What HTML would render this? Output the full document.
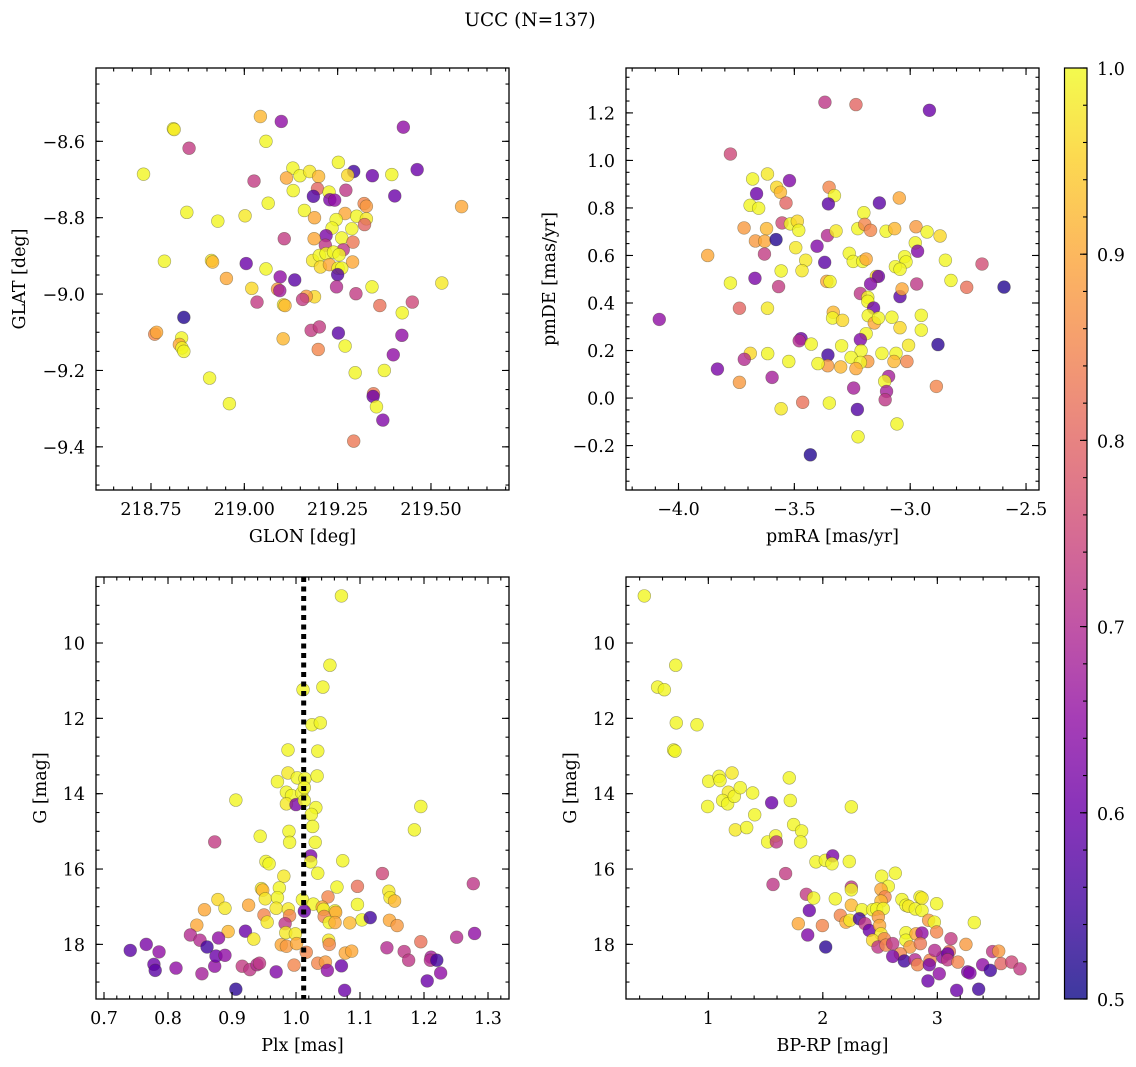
<!DOCTYPE html>
<html><head><meta charset="utf-8"><title>UCC (N=137)</title>
<style>
html,body{margin:0;padding:0;background:#fff;}
svg{display:block;font-family:"DejaVu Serif","Liberation Serif",serif;}
</style></head>
<body>
<svg id="fig" width="1136" height="1067" viewBox="0 0 1136 1067" xmlns="http://www.w3.org/2000/svg">
<rect width="1136" height="1067" fill="#fff"/>
<text x="530" y="26" font-size="18.5" text-anchor="middle">UCC (N=137)</text>
</svg>
<script>
// ---- Panel 1 data: GLON / GLAT ----
const p1Glon = [219.043,219.099,219.426,218.81,218.812,218.852,219.058,218.73,219.252,219.293,219.343,219.395,219.463,219.026,219.13,219.113,219.149,219.175,219.199,219.277,219.131,219.196,219.227,219.185,219.229,219.242,219.272,219.403,219.064,218.846,218.929,219.002,219.161,219.188,219.321,219.327,219.27,219.301,219.327,219.246,219.235,219.322,219.288,219.582,219.107,219.219,219.187,219.261,219.291,219.217,219.265,219.183,219.201,219.219,219.239,219.254,219.204,219.228,219.29,219.251,219.261,219.25,218.786,218.912,218.915,219.005,219.058,218.952,219.096,219.135,219.02,219.089,219.095,219.188,219.166,219.156,219.034,219.105,219.109,219.247,219.299,219.342,219.363,219.45,219.529,219.423,218.838,218.76,218.765,218.832,218.826,218.833,218.838,219.104,219.179,219.201,219.252,219.198,219.27,219.422,219.399,219.297,219.375,218.907,219.346,219.345,219.354,219.371,218.96,219.293];
const p1Glat = [-8.535,-8.548,-8.563,-8.567,-8.569,-8.618,-8.6,-8.686,-8.655,-8.679,-8.69,-8.687,-8.674,-8.704,-8.67,-8.696,-8.69,-8.679,-8.692,-8.689,-8.729,-8.724,-8.733,-8.744,-8.753,-8.754,-8.728,-8.743,-8.762,-8.786,-8.809,-8.795,-8.781,-8.8,-8.763,-8.77,-8.789,-8.796,-8.803,-8.805,-8.827,-8.818,-8.829,-8.771,-8.855,-8.847,-8.855,-8.853,-8.864,-8.872,-8.884,-8.912,-8.899,-8.894,-8.89,-8.897,-8.929,-8.923,-8.916,-8.932,-8.932,-8.949,-8.914,-8.912,-8.916,-8.92,-8.934,-8.959,-8.955,-8.963,-8.985,-8.987,-8.991,-9.007,-9.006,-9.014,-9.021,-9.028,-9.03,-8.981,-8.999,-8.981,-9.03,-9.021,-8.971,-9.049,-9.061,-9.105,-9.10,-9.115,-9.132,-9.141,-9.15,-9.117,-9.095,-9.086,-9.102,-9.145,-9.136,-9.108,-9.159,-9.206,-9.2,-9.22,-9.261,-9.268,-9.295,-9.33,-9.287,-9.385];
const p1Prob = [0.92,0.65,0.65,0.995,0.98,0.73,0.995,0.995,0.995,0.55,0.6,0.995,0.6,0.73,0.995,0.9,0.995,0.98,0.92,0.96,0.995,0.8,0.995,0.57,0.62,0.65,0.72,0.6,0.995,0.995,0.995,0.98,0.995,0.9,0.85,0.88,0.9,0.995,0.98,0.995,0.995,0.8,0.995,0.9,0.73,0.62,0.9,0.995,0.83,0.72,0.72,0.98,0.995,0.995,0.995,0.995,0.96,0.9,0.9,0.995,0.995,0.57,0.995,0.98,0.92,0.6,0.995,0.9,0.65,0.58,0.96,0.88,0.67,0.96,0.88,0.73,0.73,0.98,0.92,0.7,0.73,0.995,0.82,0.75,0.98,0.995,0.52,0.85,0.9,0.995,0.9,0.995,0.995,0.92,0.73,0.73,0.58,0.85,0.995,0.65,0.65,0.995,0.995,0.995,0.83,0.6,0.995,0.63,0.995,0.83];
const p1XTicks = [218.75,219.00,219.25,219.50];
const p1YTicks = [-8.6,-8.8,-9.0,-9.2,-9.4];

// ---- Panel 2 data: pmRA / pmDE ----
const p2PmRA = [-3.368,-3.234,-2.917,-3.776,-3.68,-3.616,-3.521,-3.663,-3.576,-3.56,-3.35,-3.327,-3.536,-3.353,-3.133,-3.047,-3.691,-3.654,-3.2,-3.553,-3.517,-3.487,-3.481,-3.717,-3.62,-3.668,-3.628,-3.579,-3.629,-3.874,-3.357,-3.32,-3.402,-3.494,-3.226,-3.196,-3.171,-3.104,-3.067,-2.975,-2.927,-2.871,-2.978,-2.968,-3.263,-3.246,-3.205,-3.19,-3.369,-3.451,-3.024,-3.018,-3.064,-3.044,-2.848,-2.69,-2.595,-2.756,-2.824,-2.972,-3.557,-3.467,-3.776,-3.67,-3.568,-3.36,-3.346,-3.146,-3.137,-3.171,-3.215,-3.183,-3.183,-3.044,-3.035,-3.737,-3.616,-4.083,-3.332,-3.335,-3.292,-3.158,-3.181,-3.155,-3.137,-3.079,-3.044,-2.952,-2.952,-2.88,-3.007,-3.19,-3.215,-3.471,-3.479,-3.427,-3.296,-3.355,-3.212,-3.255,-3.183,-3.215,-3.234,-3.3,-3.356,-3.398,-3.524,-3.615,-3.69,-3.716,-3.832,-3.737,-3.596,-3.122,-3.061,-3.07,-3.014,-3.093,-3.11,-3.102,-3.108,-2.887,-3.244,-3.228,-3.464,-3.349,-3.557,-3.057,-3.225,-3.431];
const p2PmDE = [1.245,1.235,1.211,1.027,0.922,0.943,0.915,0.86,0.887,0.866,0.887,0.852,0.821,0.817,0.821,0.842,0.811,0.799,0.78,0.737,0.733,0.744,0.706,0.716,0.713,0.661,0.66,0.667,0.606,0.6,0.684,0.703,0.639,0.633,0.713,0.731,0.706,0.702,0.713,0.721,0.699,0.682,0.653,0.618,0.609,0.575,0.575,0.585,0.571,0.58,0.595,0.573,0.553,0.542,0.58,0.564,0.467,0.466,0.495,0.48,0.535,0.536,0.484,0.504,0.469,0.491,0.49,0.512,0.512,0.48,0.44,0.424,0.407,0.427,0.459,0.378,0.378,0.331,0.361,0.337,0.327,0.379,0.347,0.316,0.337,0.34,0.296,0.348,0.286,0.225,0.222,0.271,0.246,0.25,0.241,0.227,0.22,0.181,0.199,0.171,0.154,0.15,0.124,0.131,0.136,0.145,0.154,0.187,0.188,0.163,0.122,0.066,0.087,0.188,0.188,0.154,0.154,0.091,0.07,0.028,-0.007,0.049,0.042,-0.048,-0.018,-0.021,-0.045,-0.109,-0.163,-0.239];
const p2Prob = [0.72,0.8,0.6,0.75,0.995,0.98,0.63,0.6,0.96,0.92,0.85,0.995,0.8,0.58,0.58,0.9,0.995,0.995,0.995,0.75,0.995,0.96,0.995,0.88,0.92,0.88,0.9,0.52,0.73,0.9,0.7,0.98,0.63,0.98,0.995,0.85,0.85,0.995,0.92,0.88,0.995,0.96,0.995,0.63,0.995,0.995,0.995,0.9,0.58,0.98,0.995,0.995,0.995,0.995,0.995,0.76,0.52,0.82,0.995,0.72,0.995,0.98,0.995,0.62,0.73,0.9,0.995,0.96,0.6,0.63,0.72,0.995,0.995,0.58,0.9,0.8,0.98,0.65,0.92,0.995,0.96,0.6,0.995,0.9,0.995,0.995,0.96,0.995,0.995,0.53,0.98,0.995,0.63,0.6,0.7,0.995,0.995,0.55,0.995,0.995,0.88,0.995,0.9,0.92,0.88,0.995,0.995,0.995,0.96,0.7,0.62,0.88,0.68,0.995,0.995,0.92,0.85,0.68,0.995,0.68,0.72,0.85,0.68,0.57,0.82,0.995,0.98,0.995,0.995,0.52];
const p2XTicks = [-4.0,-3.5,-3.0,-2.5];
const p2YTicks = [1.2,1.0,0.8,0.6,0.4,0.2,0.0,-0.2];

// ---- Panel 3 data: Plx / G ----
const p3Plx = [1.071,1.053,1.042,1.011,1.025,1.038,0.9875,1.034,0.9875,0.971,1.002,1.014,1.033,0.985,0.993,1.009,0.985,1.0,1.013,1.013,1.031,0.906,1.195,1.024,1.026,1.185,0.989,0.99,1.03,0.944,0.873,1.023,1.023,1.073,0.953,0.958,1.034,0.981,1.135,1.277,1.096,1.064,0.974,0.946,0.948,1.145,1.147,1.154,0.952,0.971,1.01,1.05,0.878,1.027,1.096,0.926,0.889,0.857,0.969,0.988,1.041,1.043,1.061,1.062,1.013,0.95,0.99,0.955,1.044,1.052,1.061,1.103,1.116,1.146,1.158,1.084,0.983,0.845,0.894,0.921,0.835,0.766,0.741,0.85,0.861,0.879,0.786,0.778,0.78,0.8125,0.853,0.873,0.875,0.889,0.916,0.928,0.939,0.943,0.934,0.977,0.985,0.984,0.999,1.001,1.016,0.997,0.969,1.034,1.046,1.049,1.051,1.052,1.071,1.077,1.087,1.076,0.906,1.142,1.169,1.176,1.195,1.211,1.21,1.22,1.205,1.226,1.251,1.279];
const p3G = [8.75,10.59,11.17,11.24,12.17,12.12,12.84,12.87,13.45,13.68,13.58,13.6,13.53,13.96,14.05,13.98,14.27,14.29,13.84,14.18,14.37,14.17,14.34,14.55,14.87,14.96,15.0,15.29,15.29,15.13,15.28,15.65,15.81,15.78,15.8,15.86,16.11,16.19,16.12,16.39,16.46,16.48,16.5,16.52,16.56,16.59,16.76,16.85,16.79,16.76,16.81,16.74,16.81,16.93,16.94,16.96,17.04,17.08,17.04,17.06,17.01,17.07,17.11,17.15,17.12,17.22,17.24,17.41,17.26,17.42,17.42,17.35,17.29,17.36,17.5,17.43,17.45,17.49,17.66,17.65,17.75,18.0,18.16,17.89,18.07,17.83,18.2,18.53,18.69,18.63,18.78,18.58,18.31,18.29,18.58,18.67,18.54,18.5,17.86,18.01,18.05,17.69,17.72,17.98,18.21,18.55,18.73,18.5,18.47,18.69,17.89,18.0,18.57,18.23,18.18,19.22,19.19,18.09,18.19,18.42,17.93,18.34,18.42,18.42,18.97,18.76,17.81,17.71];
const p3Prob = [0.995,0.995,0.995,0.995,0.995,0.995,0.995,0.995,0.98,0.995,0.995,0.995,0.995,0.995,0.995,0.995,0.98,0.62,0.995,0.995,0.995,0.995,0.995,0.995,0.995,0.995,0.995,0.995,0.995,0.995,0.73,0.62,0.995,0.995,0.995,0.995,0.995,0.98,0.75,0.72,0.82,0.995,0.995,0.98,0.92,0.98,0.98,0.92,0.98,0.995,0.995,0.85,0.96,0.995,0.995,0.9,0.98,0.9,0.98,0.98,0.9,0.995,0.995,0.9,0.6,0.85,0.85,0.98,0.85,0.995,0.9,0.995,0.55,0.9,0.88,0.92,0.72,0.9,0.92,0.6,0.7,0.62,0.58,0.7,0.55,0.65,0.65,0.6,0.58,0.65,0.68,0.65,0.6,0.65,0.73,0.72,0.7,0.72,0.98,0.9,0.88,0.98,0.98,0.9,0.85,0.85,0.63,0.85,0.88,0.65,0.98,0.85,0.6,0.9,0.9,0.6,0.53,0.7,0.72,0.72,0.82,0.68,0.7,0.55,0.6,0.65,0.7,0.65];
const p3PlxMean = 1.012;
const p3XTicks = [0.7,0.8,0.9,1.0,1.1,1.2,1.3];
const p3YTicks = [10,12,14,16,18];

// ---- Panel 4 data: BP-RP / G ----
const p4BpRp = [0.441,0.715,0.557,0.616,0.72,0.901,0.697,0.709,1.003,1.093,1.102,1.207,1.175,1.125,1.169,1.227,1.279,1.387,0.994,1.707,1.716,2.249,1.553,1.405,1.236,1.335,1.518,1.588,1.594,1.745,1.815,1.806,1.94,2.022,2.086,2.08,2.231,1.675,1.565,1.856,1.92,2.109,2.249,2.249,2.514,2.633,2.572,2.508,2.543,2.508,2.691,2.726,2.75,2.849,2.866,2.808,2.866,2.994,2.249,1.882,2.342,2.435,2.47,2.528,2.153,2.202,2.237,2.319,2.368,2.485,2.406,2.496,2.508,2.924,2.974,2.994,3.323,1.786,1.996,1.868,2.025,2.435,2.537,2.482,2.552,2.61,2.726,2.726,2.814,2.866,2.761,2.852,2.677,2.61,2.712,2.805,2.828,2.936,2.93,2.918,3.017,3.047,3.105,3.09,3.119,3.09,3.18,3.169,3.25,3.265,3.285,3.361,3.396,3.463,3.483,3.536,3.556,3.649,3.722,2.977];
const p4G = [8.75,10.59,11.17,11.24,12.12,12.17,12.84,12.87,13.67,13.54,13.65,13.45,13.96,14.18,14.27,14.07,13.84,13.98,14.34,13.58,14.18,14.35,14.24,14.56,14.96,14.9,15.28,15.12,15.28,14.82,14.99,15.28,15.81,15.77,15.65,15.86,15.8,16.12,16.41,16.67,16.77,16.79,16.48,16.55,16.19,16.11,16.46,16.54,16.74,16.85,16.81,16.96,16.99,16.74,16.77,17.06,17.1,16.92,16.96,17.1,17.08,17.08,17.06,17.05,17.23,17.41,17.36,17.32,17.45,17.27,17.63,17.5,17.72,17.36,17.41,17.67,17.42,17.45,17.5,17.75,18.07,17.89,17.85,18.07,18.02,17.98,17.69,17.89,17.72,17.7,18.07,17.98,18.25,18.32,18.44,18.41,18.54,18.42,18.54,18.97,18.78,18.34,18.19,18.25,17.85,18.41,18.47,19.22,18.0,18.73,18.76,19.19,18.54,18.69,18.19,18.18,18.51,18.47,18.65,18.16];
const p4Prob = [0.995,0.995,0.995,0.995,0.995,0.995,0.995,0.995,0.995,0.995,0.995,0.98,0.98,0.995,0.995,0.995,0.995,0.995,0.995,0.995,0.995,0.995,0.6,0.995,0.98,0.995,0.995,0.995,0.72,0.995,0.995,0.995,0.995,0.995,0.62,0.995,0.995,0.73,0.72,0.73,0.995,0.995,0.72,0.995,0.995,0.995,0.995,0.9,0.85,0.92,0.995,0.995,0.98,0.995,0.98,0.995,0.995,0.995,0.92,0.6,0.995,0.995,0.995,0.995,0.85,0.9,0.98,0.55,0.72,0.88,0.6,0.9,0.98,0.88,0.995,0.85,0.995,0.9,0.85,0.63,0.53,0.96,0.85,0.72,0.85,0.72,0.995,0.995,0.9,0.65,0.88,0.83,0.85,0.62,0.55,0.7,0.85,0.85,0.62,0.6,0.65,0.65,0.82,0.6,0.73,0.72,0.85,0.6,0.88,0.62,0.63,0.55,0.65,0.55,0.72,0.88,0.8,0.75,0.73,0.7];
const p4XTicks = [1,2,3];
const p4YTicks = [10,12,14,16,18];

// ---- Colorbar ----
const cbTicks = [0.5,0.6,0.7,0.8,0.9,1.0];

const NS = "http://www.w3.org/2000/svg";
const svg = document.getElementById('fig');
function mk(tag, attrs, parent){
  const e = document.createElementNS(NS, tag);
  for (const k in attrs) e.setAttribute(k, attrs[k]);
  (parent||svg).appendChild(e);
  return e;
}
const PL = [[13,8,135],[65,4,157],[106,0,168],[143,13,164],[177,42,144],[204,71,120],[225,100,98],[242,132,75],[252,166,54],[252,206,37],[240,249,33]];
function plasma(t){
  t = Math.max(0, Math.min(1, t));
  const s = t*(PL.length-1), i = Math.min(PL.length-2, Math.floor(s)), f = s - i;
  const a = PL[i], b = PL[i+1];
  return 'rgb(' + [0,1,2].map(k => Math.round(a[k]+(b[k]-a[k])*f)).join(',') + ')';
}
function cmap(v){ return plasma((v-0.5)/0.5); }
function fmt(v, d){ const s = Math.abs(v).toFixed(d); return (v < -1e-9 ? '\u2212' : '') + s; }

function panel(cfg){
  const g = mk('g', {});
  
  
  const {x0,y0,w,h,xmin,xmax,ymin,ymax,yInv} = cfg;
  const X = v => x0 + (v - xmin)/(xmax - xmin)*w;
  const Y = v => yInv ? y0 + (v - ymin)/(ymax - ymin)*h : y0 + h - (v - ymin)/(ymax - ymin)*h;
  const clip = 'clip-' + cfg.name;
  const cp = mk('clipPath', {id: clip}, g);
  mk('rect', {x:x0, y:y0, width:w, height:h}, cp);
  const pts = mk('g', {'clip-path':'url(#'+clip+')'}, g);
  
  
  const n = Math.min(cfg.xs.length, cfg.ys.length, cfg.cs.length);
  for (let i = 0; i < n; i++){
    const c = mk('circle', {cx: X(cfg.xs[i]).toFixed(2), cy: Y(cfg.ys[i]).toFixed(2), r: 6.4, fill: cmap(cfg.cs[i]), 'fill-opacity': 0.8, stroke: 'rgba(60,60,30,0.45)', 'stroke-width': 0.6}, pts);
    
    
  }
  if (cfg.vline !== undefined){
    const l = mk('line', {x1: X(cfg.vline), x2: X(cfg.vline), y1: y0, y2: y0+h, stroke:'#000', 'stroke-width':5, 'stroke-dasharray':'5,4.5'}, g);
    
    
  }
  const tk = mk('g', {stroke:'#000', 'stroke-width':1.1}, g);
  const EPS = 1e-6;
  function ticksX(step, len){
    const start = Math.ceil((xmin)/step - EPS)*step;
    for (let v = start; v <= xmax + EPS; v += step){
      const px = X(v);
      mk('line', {x1:px, x2:px, y1:y0+h, y2:y0+h-len}, tk);
      mk('line', {x1:px, x2:px, y1:y0, y2:y0+len}, tk);
    }
  }
  function ticksY(step, len){
    const lo = Math.min(ymin, ymax), hi = Math.max(ymin, ymax);
    const start = Math.ceil(lo/step - EPS)*step;
    for (let v = start; v <= hi + EPS; v += step){
      const py = Y(v);
      mk('line', {x1:x0, x2:x0+len, y1:py, y2:py}, tk);
      mk('line', {x1:x0+w, x2:x0+w-len, y1:py, y2:py}, tk);
    }
  }
  ticksX(cfg.xMinor, 3.5); ticksY(cfg.yMinor, 3.5);
  cfg.xTicks.forEach(v => { const px = X(v);
    mk('line', {x1:px, x2:px, y1:y0+h, y2:y0+h-7}, tk);
    mk('line', {x1:px, x2:px, y1:y0, y2:y0+7}, tk);
    const t = mk('text', {x:px, y:y0+h+25, 'font-size':17.5, 'text-anchor':'middle'}, g);
    t.textContent = fmt(v, cfg.xDec);
    
    
  });
  cfg.yTicks.forEach(v => { const py = Y(v);
    mk('line', {x1:x0, x2:x0+7, y1:py, y2:py}, tk);
    mk('line', {x1:x0+w, x2:x0+w-7, y1:py, y2:py}, tk);
    const t = mk('text', {x:x0-11, y:py+6.5, 'font-size':17.5, 'text-anchor':'end'}, g);
    t.textContent = fmt(v, cfg.yDec);
    
    
  });
  const fr = mk('rect', {x:x0, y:y0, width:w, height:h, fill:'none', stroke:'#000', 'stroke-width':1.3}, g);
  
  
  const xl = mk('text', {x:x0+w/2, y:y0+h+52, 'font-size':17.5, 'text-anchor':'middle'}, g);
  xl.textContent = cfg.xLabel;
  
  
  const yl = mk('text', {x:0, y:0, 'font-size':17.5, 'text-anchor':'middle', transform:'translate('+cfg.yLabelX+','+(y0+h/2)+') rotate(-90)'}, g);
  yl.textContent = cfg.yLabel;
  
  
}

panel({name:'panel-glon-glat', x0:96, y0:68, w:413, h:422, xmin:218.6027, xmax:219.709, ymin:-9.513, ymax:-8.408, yInv:false,
  xs:p1Glon, ys:p1Glat, cs:p1Prob, xTicks:p1XTicks, yTicks:p1YTicks, xMinor:0.05, yMinor:0.05, xDec:2, yDec:1,
  xLabel:'GLON [deg]', yLabel:'GLAT [deg]', yLabelX:25});
panel({name:'panel-pmra-pmde', x0:626, y0:68, w:413, h:422, xmin:-4.2266, xmax:-2.444, ymin:-0.387, ymax:1.389, yInv:false,
  xs:p2PmRA, ys:p2PmDE, cs:p2Prob, xTicks:p2XTicks, yTicks:p2YTicks, xMinor:0.1, yMinor:0.05, xDec:1, yDec:1,
  xLabel:'pmRA [mas/yr]', yLabel:'pmDE [mas/yr]', yLabelX:555});
panel({name:'panel-plx-g', x0:96, y0:577, w:413, h:422, xmin:0.6875, xmax:1.3328, ymin:8.248, ymax:19.45, yInv:true,
  xs:p3Plx, ys:p3G, cs:p3Prob, xTicks:p3XTicks, yTicks:p3YTicks, xMinor:0.02, yMinor:0.5, xDec:1, yDec:0,
  xLabel:'Plx [mas]', yLabel:'G [mag]', yLabelX:46, vline:p3PlxMean});
panel({name:'panel-bprp-g', x0:626, y0:577, w:413, h:422, xmin:0.281, xmax:3.888, ymin:8.248, ymax:19.45, yInv:true,
  xs:p4BpRp, ys:p4G, cs:p4Prob, xTicks:p4XTicks, yTicks:p4YTicks, xMinor:0.2, yMinor:0.5, xDec:0, yDec:0,
  xLabel:'BP-RP [mag]', yLabel:'G [mag]', yLabelX:576});

(function(){
  const cx = 1064.5, cy = 68, cw = 22.5, ch = 931, vmin = 0.5, vmax = 1.0;
  const CY = v => cy + ch - (v - vmin)/(vmax - vmin)*ch;
  const g = mk('g', {});
  
  
  const defs = mk('defs', {}, g);
  const lg = mk('linearGradient', {id:'cbgrad', x1:0, y1:1, x2:0, y2:0}, defs);
  for (let i = 0; i <= 20; i++){
    mk('stop', {offset: (i/20), 'stop-color': plasma(i/20)}, lg);
  }
  mk('rect', {x:cx, y:cy, width:cw, height:ch, fill:'url(#cbgrad)', 'fill-opacity':0.8}, g);
  const tk = mk('g', {stroke:'#000', 'stroke-width':1.1}, g);
  for (let v = vmin; v <= vmax + 1e-6; v += 0.02){
    mk('line', {x1:cx+cw, x2:cx+cw-4, y1:CY(v), y2:CY(v)}, tk);
  }
  cbTicks.forEach(v => {
    mk('line', {x1:cx+cw, x2:cx+cw-7, y1:CY(v), y2:CY(v)}, tk);
    const t = mk('text', {x:1097, y:CY(v)+7, 'font-size':17.5}, g);
    t.textContent = v.toFixed(1);
    
    
  });
  mk('rect', {x:cx, y:cy, width:cw, height:ch, fill:'none', stroke:'#000', 'stroke-width':1.2}, g);
})();
</script>
</body></html>
